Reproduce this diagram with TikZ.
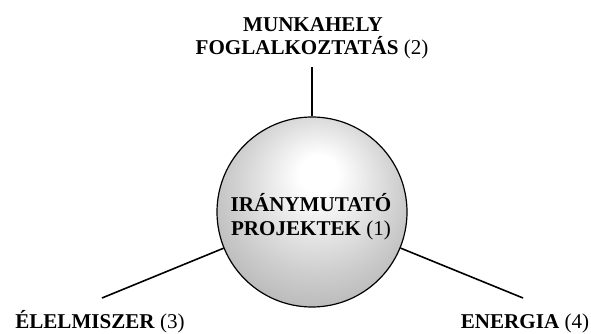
\documentclass[tikz,border=0pt]{standalone}
\usepackage{fontspec}
\setmainfont{Liberation Serif}
\usepackage{tikz}
\usetikzlibrary{calc}
\pgfdeclareradialshading{gomb}{\pgfpoint{2bp}{11bp}}{%
  color(0bp)=(white); color(5bp)=(white); color(22bp)=(gray!38);
  color(34bp)=(gray!62); color(50bp)=(gray!62)}
\tikzset{
  vonal/.style={line width=1.2pt},
  felirat/.style={font=\fontsize{15.8}{17.3}\selectfont, align=center, inner sep=0pt}
}

\begin{document}
\begin{tikzpicture}[x=0.75pt,y=-0.75pt]
  \useasboundingbox (0,0) rectangle (591,334);
  \node[circle, draw, line width=0.9pt, minimum size=142.5pt, inner sep=0pt,
        shading=gomb, felirat] (kozep) at (312,212) {};
  \node[felirat, anchor=base] (kozepA) at (311,212) {\textbf{IRÁNYMUTATÓ}};
  \node[felirat, anchor=base] (kozepB) at (311,235) {\textbf{PROJEKTEK} (1)};
  \coordinate (v2) at (312,67);
  \coordinate (v3) at (102,298);
  \coordinate (v4) at (523,298);
  \draw[vonal] (kozep) -- (v2);
  \draw[vonal] (kozep) -- (v3);
  \draw[vonal] (kozep) -- (v4);
  \node[felirat, anchor=base] (munka) at (313,32) {\textbf{MUNKAHELY}};
  \node[felirat, anchor=base] (fogl) at (312,55) {\textbf{FOGLALKOZTATÁS} (2)};
  \node[felirat, anchor=base] (elel) at (100,328) {\textbf{ÉLELMISZER} (3)};
  \node[felirat, anchor=base] (ener) at (525,328) {\textbf{ENERGIA} (4)};
\end{tikzpicture}
\end{document}
